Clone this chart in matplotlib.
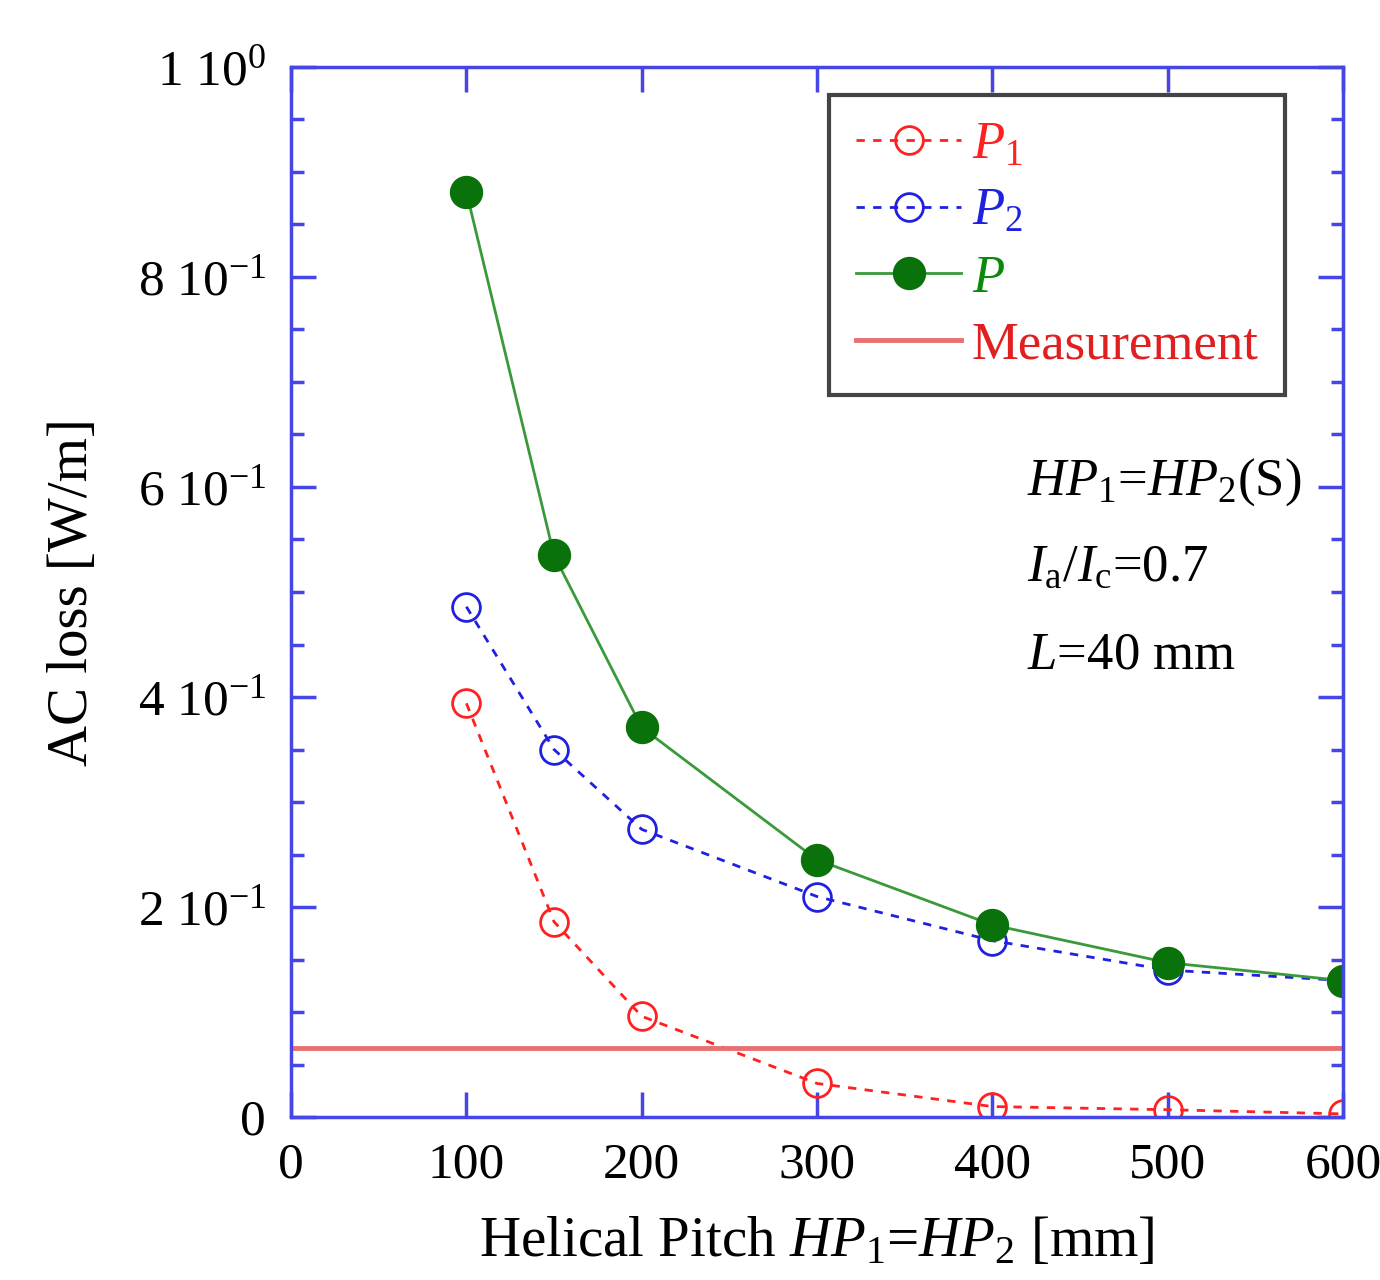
import matplotlib.pyplot as plt
import numpy as np
from matplotlib.ticker import MultipleLocator, FixedLocator

plt.rcParams['font.family'] = 'Liberation Serif'
plt.rcParams['mathtext.fontset'] = 'custom'
plt.rcParams['mathtext.rm'] = 'Liberation Serif'
plt.rcParams['mathtext.it'] = 'Liberation Serif:italic'

# data
pitch = [100, 150, 200, 300, 400, 500, 600]
p1 = [0.394, 0.186, 0.096, 0.032, 0.010, 0.007, 0.003]
p2 = [0.486, 0.350, 0.274, 0.210, 0.168, 0.140, 0.130]
p_total = [0.881, 0.535, 0.371, 0.245, 0.183, 0.147, 0.130]
measurement = 0.066

yticks = [0, 0.2, 0.4, 0.6, 0.8, 1.0]
ytick_labels = ['0', r'2 10$^{-1}$', r'4 10$^{-1}$', r'6 10$^{-1}$',
                r'8 10$^{-1}$', r'1 10$^{0}$']

spine_col = '#4646e6'

fig = plt.figure(figsize=(13.8, 12.8), dpi=100)
ax = fig.add_axes([0.2109, 0.1273, 0.7623, 0.8204])

ax.plot(pitch, p1, ls=(0, (3, 3)), lw=2, color='#ff2020', marker='o',
        ms=20, mfc='none', mec='#ff2020', mew=2, label=r'$\mathit{P}_1$')
ax.plot(pitch, p2, ls=(0, (3, 3)), lw=2, color='#2020e0', marker='o',
        ms=20, mfc='none', mec='#2020e0', mew=2, label=r'$\mathit{P}_2$')
ax.plot(pitch, p_total, ls='-', lw=2, color='#3a9a3a', marker='o',
        ms=23, mfc='#0a720a', mec='#0a720a', label=r'$\mathit{P}$')
ax.axhline(measurement, color='#e87070', lw=3.5, label='Measurement')

ax.set_xlim(0, 600)
ax.set_ylim(0, 1.0)
ax.xaxis.set_major_locator(MultipleLocator(100))
ax.yaxis.set_major_locator(FixedLocator(yticks))
ax.set_yticklabels(ytick_labels)
ax.yaxis.set_minor_locator(MultipleLocator(0.05))

ax.tick_params(which='both', direction='in', top=True, right=True,
               color=spine_col, labelsize=37, width=2.5)
ax.tick_params(which='major', length=18, pad=18)
ax.tick_params(which='minor', length=9)
for s in ax.spines.values():
    s.set_color(spine_col)
    s.set_linewidth(2.5)

ax.set_xlabel(r'Helical Pitch $\mathit{HP}_1$=$\mathit{HP}_2$ [mm]', fontsize=41, labelpad=20)
ax.set_ylabel('AC loss [W/m]', fontsize=41, labelpad=28)

leg = ax.legend(loc='upper right', bbox_to_anchor=(0.945, 0.973), fontsize=38,
                handlelength=2.0, handletextpad=0.2, borderpad=0.5,
                labelspacing=0.35, borderaxespad=0, fancybox=False, framealpha=1)
leg.get_frame().set_edgecolor('#444444')
leg.get_frame().set_linewidth(3)
for txt, c in zip(leg.get_texts(), ['#ff2020', '#2020e0', '#0a8a0a', '#e02020']):
    txt.set_color(c)

ax.text(0.70, 0.605, r'$\mathit{HP}_1$=$\mathit{HP}_2$(S)', transform=ax.transAxes,
        fontsize=38, va='center')
ax.text(0.70, 0.523, r'$\mathit{I}_{\rm a}$/$\mathit{I}_{\rm c}$=0.7', transform=ax.transAxes,
        fontsize=38, va='center')
ax.text(0.70, 0.44, r'$\mathit{L}$=40 mm', transform=ax.transAxes,
        fontsize=38, va='center')

fig.savefig('out.png', dpi=100)
